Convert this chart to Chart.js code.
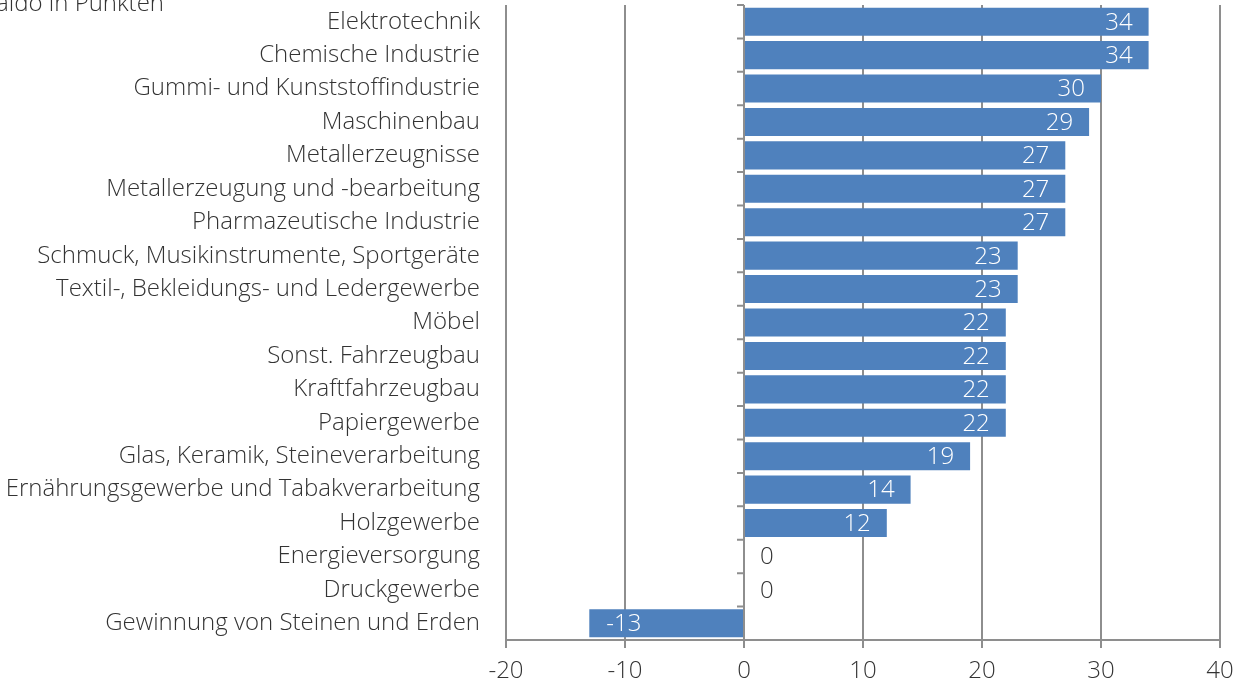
<!DOCTYPE html>
<html>
<head>
<meta charset="utf-8">
<script src="https://cdn.jsdelivr.net/npm/chart.js@4"></script>
<style>
  html, body { margin: 0; padding: 0; background: #fff; }
  #wrap { width: 1246px; height: 686px; position: relative; }
</style>
</head>
<body>
<div id="wrap"><canvas id="chart"></canvas></div>
<script>
const categories = [
  'Elektrotechnik',
  'Chemische Industrie',
  'Gummi- und Kunststoffindustrie',
  'Maschinenbau',
  'Metallerzeugnisse',
  'Metallerzeugung und -bearbeitung',
  'Pharmazeutische Industrie',
  'Schmuck, Musikinstrumente, Sportgeräte',
  'Textil-, Bekleidungs- und Ledergewerbe',
  'Möbel',
  'Sonst. Fahrzeugbau',
  'Kraftfahrzeugbau',
  'Papiergewerbe',
  'Glas, Keramik, Steineverarbeitung',
  'Ernährungsgewerbe und Tabakverarbeitung',
  'Holzgewerbe',
  'Energieversorgung',
  'Druckgewerbe',
  'Gewinnung von Steinen und Erden'
];
const saldo = [34, 34, 30, 29, 27, 27, 27, 23, 23, 22, 22, 22, 22, 19, 14, 12, 0, 0, -13];
const xMin = -20, xMax = 40, xStep = 10;
const unitLabel = 'Saldo in Punkten';

const FONT = "'Open Sans', 'Liberation Sans', sans-serif";
const TEXT = '#333333';
const GRID = '#8e8e8e';

// vertical axis line at zero with small tick marks between categories
const zeroAxis = {
  id: 'zeroAxis',
  afterDatasetsDraw(chart) {
    const { ctx, chartArea, scales } = chart;
    const x0 = scales.x.getPixelForValue(0);
    const n = categories.length;
    const step = (chartArea.bottom - chartArea.top) / n;
    ctx.save();
    ctx.strokeStyle = GRID;
    ctx.lineWidth = 2;
    ctx.beginPath();
    ctx.moveTo(x0, chartArea.top);
    ctx.lineTo(x0, chartArea.bottom);
    for (let i = 0; i <= n; i++) {
      const y = chartArea.top + i * step;
      ctx.moveTo(x0 - 7, y);
      ctx.lineTo(x0, y);
    }
    ctx.stroke();
    ctx.restore();
  }
};

// value labels at the bar end
const barLabels = {
  id: 'barLabels',
  afterDatasetsDraw(chart) {
    const { ctx } = chart;
    const meta = chart.getDatasetMeta(0);
    ctx.save();
    ctx.font = '300 24px ' + FONT;
    ctx.textBaseline = 'middle';
    meta.data.forEach((bar, i) => {
      const v = saldo[i];
      const txt = String(v);
      if (v > 0) {
        ctx.fillStyle = '#ffffff';
        ctx.textAlign = 'right';
        ctx.fillText(txt, bar.x - 16, bar.y + 1);
      } else if (v < 0) {
        ctx.fillStyle = '#ffffff';
        ctx.textAlign = 'left';
        ctx.fillText(txt, bar.x + 17, bar.y + 1);
      } else {
        ctx.fillStyle = TEXT;
        ctx.textAlign = 'left';
        ctx.fillText(txt, bar.x + 16, bar.y + 1);
      }
    });
    ctx.restore();
  }
};

const unitTitle = {
  id: 'unitTitle',
  afterDraw(chart) {
    const { ctx } = chart;
    ctx.save();
    ctx.font = '300 24px ' + FONT;
    ctx.fillStyle = TEXT;
    ctx.textAlign = 'right';
    ctx.textBaseline = 'alphabetic';
    ctx.fillText(unitLabel, 164, 11);
    ctx.restore();
  }
};

new Chart(document.getElementById('chart'), {
  type: 'bar',
  data: {
    labels: categories,
    datasets: [{
      data: saldo,
      backgroundColor: '#4f81bd',
      borderWidth: 0,
      categoryPercentage: 1,
      barPercentage: 0.84
    }]
  },
  options: {
    indexAxis: 'y',
    responsive: true,
    maintainAspectRatio: false,
    animation: false,
    layout: { padding: { top: 5, right: 26, left: 0, bottom: 0 } },
    plugins: {
      legend: { display: false },
      tooltip: { enabled: false }
    },
    scales: {
      x: {
        min: xMin,
        max: xMax,
        ticks: {
          stepSize: xStep,
          color: TEXT,
          font: { family: FONT, size: 24, weight: 300 },
          padding: 9
        },
        grid: { color: GRID, lineWidth: 2, tickLength: 8 },
        border: { color: GRID, width: 2 },
        afterFit: s => { s.height = 46; }
      },
      y: {
        ticks: {
          color: TEXT,
          autoSkip: false,
          font: { family: FONT, size: 24, weight: 300 },
          padding: 26
        },
        grid: { display: false, drawTicks: false },
        border: { display: false },
        afterFit: s => {
          s.width = 506;
          s.paddingTop = 0;
          s.paddingBottom = 0;
        }
      }
    }
  },
  plugins: [zeroAxis, barLabels, unitTitle]
});
</script>
</body>
</html>
